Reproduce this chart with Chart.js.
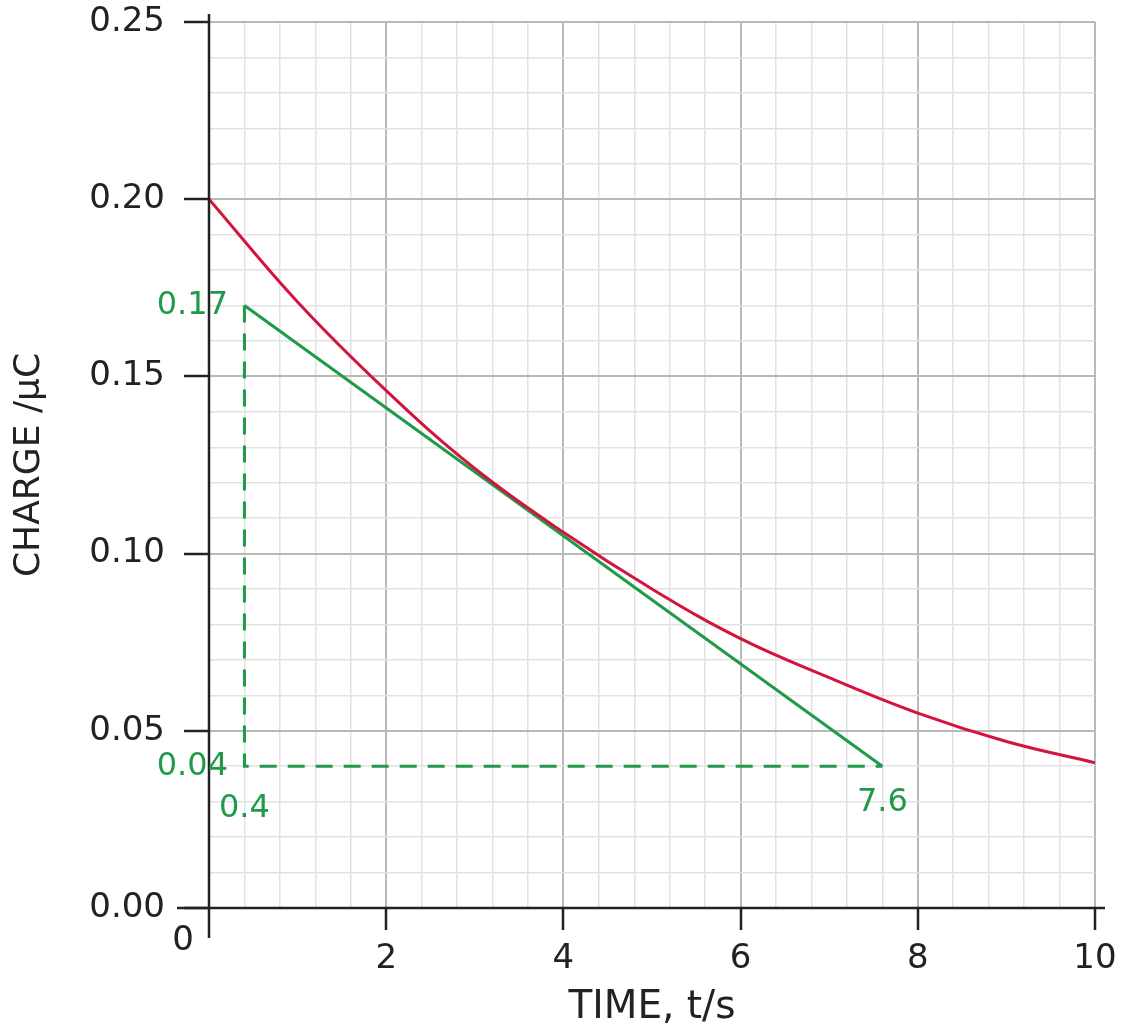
<!DOCTYPE html>
<html>
<head>
<meta charset="utf-8">
<script src="https://cdn.jsdelivr.net/npm/chart.js@4.4.1/dist/chart.umd.min.js"></script>
<style>
  html, body { margin: 0; padding: 0; background: #fff; }
  #wrap { width: 1126px; height: 1031px; }
</style>
</head>
<body>
<div id="wrap"><canvas id="chargeChart"></canvas></div>
<script>
// capacitor discharge curve
const timeS = [0, 1, 2, 3, 4, 5, 6, 7, 8, 9, 10];
const chargeUC = [0.200, 0.171, 0.146, 0.124, 0.106, 0.090, 0.076, 0.065, 0.055, 0.047, 0.041];

// tangent drawn at t = 4 s
const tangentT = [0.4, 7.6];
const tangentQ = [0.17, 0.04];

// dashed construction lines
const guideT = [0.4, 0.4, 7.6];
const guideQ = [0.17, 0.04, 0.04];

// green value labels on the construction
const noteText = ['0.17', '0.04', '0.4', '7.6'];

const FONT = '"DejaVu Sans", sans-serif';
const GREEN = '#1e9a48';
const RED = '#d3143c';
const INK = '#222';

function isMultiple(v, step) {
    const r = v / step;
    return Math.abs(r - Math.round(r)) < 1e-6;
}

function pts(xs, ys) {
    return xs.map((x, i) => ({ x: x, y: ys[i] }));
}

// axes lines + annotation text
const extrasPlugin = {
    id: 'extras',
    afterDatasetsDraw(chart) {
        const ctx = chart.ctx;
        const xs = chart.scales.x;
        const ys = chart.scales.y;
        const x0 = xs.getPixelForValue(0);
        const y0 = ys.getPixelForValue(0);

        ctx.save();
        ctx.strokeStyle = INK;
        ctx.lineWidth = 2.5;
        ctx.beginPath();
        ctx.moveTo(x0, ys.getPixelForValue(0.25) - 8);
        ctx.lineTo(x0, y0 + 30);
        ctx.moveTo(x0 - 32, y0);
        ctx.lineTo(xs.getPixelForValue(10) + 10, y0);
        ctx.stroke();

        // origin label
        ctx.fillStyle = INK;
        ctx.font = '34px ' + FONT;
        ctx.textAlign = 'center';
        ctx.textBaseline = 'middle';
        ctx.fillText('0', x0 - 26, y0 + 33);

        // green labels
        ctx.fillStyle = GREEN;
        ctx.font = '32px ' + FONT;
        ctx.textAlign = 'right';
        ctx.fillText(noteText[0], x0 + 19, ys.getPixelForValue(0.17));
        ctx.fillText(noteText[1], x0 + 19, ys.getPixelForValue(0.04));
        ctx.textAlign = 'center';
        ctx.fillText(noteText[2], xs.getPixelForValue(0.4), ys.getPixelForValue(0.04) + 42);
        ctx.fillText(noteText[3], xs.getPixelForValue(7.6), ys.getPixelForValue(0.04) + 36);
        ctx.restore();
    }
};

new Chart(document.getElementById('chargeChart'), {
    type: 'scatter',
    data: {
        datasets: [
            {
                label: 'guide',
                data: pts(guideT, guideQ),
                showLine: true,
                borderColor: GREEN,
                borderWidth: 3,
                borderDash: [17, 11],
                pointRadius: 0,
                order: 3
            },
            {
                label: 'tangent',
                data: pts(tangentT, tangentQ),
                showLine: true,
                borderColor: GREEN,
                borderWidth: 3,
                pointRadius: 0,
                order: 2
            },
            {
                label: 'charge',
                data: pts(timeS, chargeUC),
                showLine: true,
                borderColor: RED,
                borderWidth: 3,
                tension: 0.4,
                pointRadius: 0,
                order: 1
            }
        ]
    },
    options: {
        responsive: true,
        maintainAspectRatio: false,
        animation: false,
        layout: { padding: { top: 22, right: 31, bottom: 0, left: 0 } },
        plugins: {
            legend: { display: false },
            tooltip: { enabled: false }
        },
        scales: {
            x: {
                type: 'linear',
                min: 0,
                max: 10,
                afterFit(scale) { scale.height = 123; },
                border: { display: false },
                grid: {
                    color: c => isMultiple(c.tick.value, 2) ? '#b8b8b8' : '#e2e2e2',
                    lineWidth: c => isMultiple(c.tick.value, 2) ? 2 : 1.5,
                    tickColor: c => (isMultiple(c.tick.value, 2) && c.tick.value > 0) ? INK : 'rgba(0,0,0,0)',
                    tickLength: 22,
                    tickWidth: 2.5
                },
                ticks: {
                    stepSize: 0.4,
                    autoSkip: false,
                    maxRotation: 0,
                    padding: 9,
                    color: INK,
                    font: { family: FONT, size: 34 },
                    callback: v => (isMultiple(v, 2) && v > 0) ? String(Math.round(v)) : ''
                },
                title: {
                    display: true,
                    text: 'TIME, t/s',
                    color: INK,
                    font: { family: FONT, size: 39 },
                    padding: { top: 0, bottom: 0 }
                }
            },
            y: {
                type: 'linear',
                min: 0,
                max: 0.25,
                afterFit(scale) {
                    scale.width = 209;
                    scale.paddingTop = 0;
                    scale.paddingBottom = 0;
                },
                border: { display: false },
                grid: {
                    color: c => isMultiple(c.tick.value, 0.05) ? '#b8b8b8' : '#e2e2e2',
                    lineWidth: c => isMultiple(c.tick.value, 0.05) ? 2 : 1.5,
                    tickColor: c => isMultiple(c.tick.value, 0.05) ? INK : 'rgba(0,0,0,0)',
                    tickLength: 25,
                    tickWidth: 2.5
                },
                ticks: {
                    stepSize: 0.01,
                    autoSkip: false,
                    padding: 19,
                    color: INK,
                    font: { family: FONT, size: 34 },
                    callback: v => isMultiple(v, 0.05) ? v.toFixed(2) : ''
                },
                title: {
                    display: true,
                    text: 'CHARGE /μC',
                    color: INK,
                    font: { family: FONT, size: 36 },
                    padding: { top: 8, bottom: 0 }
                }
            }
        }
    },
    plugins: [extrasPlugin]
});
</script>
</body>
</html>
